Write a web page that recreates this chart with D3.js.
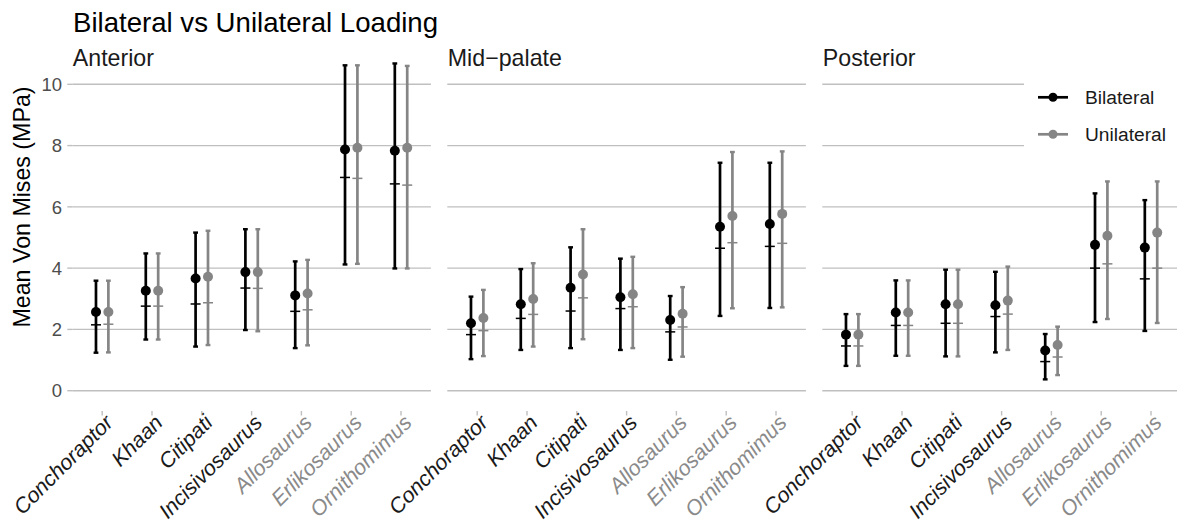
<!DOCTYPE html>
<html>
<head>
<meta charset="utf-8">
<script src="https://cdn.jsdelivr.net/npm/d3@7"></script>
<style>
  html, body { margin: 0; padding: 0; background: #fff; }
  svg { display: block; font-family: "Liberation Sans", Arial, sans-serif; }
</style>
</head>
<body>
<svg id="chart" width="1177" height="527"></svg>
<script>
// Facets, taxa and series
const regions = ["Anterior", "Mid\u2212palate", "Posterior"];
const taxa = ["Conchoraptor", "Khaan", "Citipati", "Incisivosaurus", "Allosaurus", "Erlikosaurus", "Ornithomimus"];
const outgroupTaxa = ["Allosaurus", "Erlikosaurus", "Ornithomimus"];
const seriesNames = ["Bilateral", "Unilateral"];
const yTicks = [0, 2, 4, 6, 8, 10];

// Mean Von Mises stress (MPa), one row per region: Anterior, Mid-palate, Posterior
const bilateralMean = [
  [2.57, 3.26, 3.66, 3.87, 3.11, 7.87, 7.83],
  [2.20, 2.82, 3.36, 3.05, 2.31, 5.35, 5.44],
  [1.83, 2.55, 2.82, 2.79, 1.31, 4.76, 4.67]
];
const bilateralMedian = [
  [2.15, 2.76, 2.83, 3.35, 2.59, 6.96, 6.75],
  [1.83, 2.36, 2.60, 2.68, 1.92, 4.65, 4.71],
  [1.46, 2.13, 2.20, 2.42, 0.95, 4.00, 3.65]
];
const bilateralMin = [
  [1.24, 1.67, 1.44, 1.98, 1.39, 4.12, 3.99],
  [1.03, 1.33, 1.39, 1.33, 1.01, 2.44, 2.70],
  [0.81, 1.14, 1.12, 1.25, 0.37, 2.24, 1.95]
];
const bilateralMax = [
  [3.59, 4.48, 5.16, 5.27, 4.22, 10.62, 10.68],
  [3.07, 3.97, 4.68, 4.31, 3.09, 7.44, 7.44],
  [2.50, 3.60, 3.95, 3.88, 1.85, 6.44, 6.22]
];
const unilateralMean = [
  [2.57, 3.26, 3.72, 3.87, 3.17, 7.93, 7.93],
  [2.37, 2.99, 3.79, 3.15, 2.51, 5.70, 5.77],
  [1.83, 2.55, 2.82, 2.94, 1.49, 5.06, 5.16]
];
const unilateralMedian = [
  [2.17, 2.76, 2.87, 3.34, 2.64, 6.93, 6.71],
  [1.96, 2.49, 3.03, 2.74, 2.08, 4.83, 4.81],
  [1.46, 2.13, 2.20, 2.50, 1.10, 4.14, 4.00]
];
const unilateralMin = [
  [1.25, 1.67, 1.49, 1.94, 1.48, 4.14, 3.99],
  [1.13, 1.44, 1.68, 1.39, 1.11, 2.69, 2.72],
  [0.81, 1.14, 1.12, 1.33, 0.51, 2.34, 2.21]
];
const unilateralMax = [
  [3.59, 4.48, 5.22, 5.27, 4.27, 10.62, 10.60],
  [3.29, 4.16, 5.27, 4.37, 3.38, 7.79, 7.81],
  [2.50, 3.60, 3.95, 4.05, 2.09, 6.83, 6.83]
];

// Build tidy rows from the arrays above
const stats = {
  Bilateral: { mean: bilateralMean, median: bilateralMedian, min: bilateralMin, max: bilateralMax },
  Unilateral: { mean: unilateralMean, median: unilateralMedian, min: unilateralMin, max: unilateralMax }
};
const rows = [];
regions.forEach((region, r) => {
  taxa.forEach((taxon, t) => {
    seriesNames.forEach(s => {
      rows.push({
        region, r, taxon, series: s,
        mean: stats[s].mean[r][t],
        median: stats[s].median[r][t],
        lo: stats[s].min[r][t],
        hi: stats[s].max[r][t]
      });
    });
  });
});

// Layout
const svg = d3.select("#chart");
const panelWidth = 358.6;
const panelGap = 16.4;
const panelLeft0 = 72.3;
const colour = d3.scaleOrdinal().domain(seriesNames).range(["#000000", "#858585"]);
const gridColour = "#bfbfbf";

const y = d3.scaleLinear().domain([0, 10]).range([390.7, 84.3]);

const panelX = d3.scaleBand().domain(regions)
  .range([panelLeft0, panelLeft0 + 3 * panelWidth + 2 * panelGap])
  .paddingInner(panelGap / (panelWidth + panelGap));

const xFor = region => {
  const left = panelX(region);
  const step = panelWidth / (taxa.length - 1 + 1.2);
  return d3.scalePoint().domain(taxa).range([left + 0.6 * step, left + panelWidth - 0.6 * step]);
};
const dodge = d3.scalePoint().domain(seriesNames).range([-6.2, 6.2]);

// Title
svg.append("text")
  .attr("x", 73).attr("y", 32)
  .attr("font-size", 27.6).attr("fill", "#000")
  .text("Bilateral vs Unilateral Loading");

// Y axis title
svg.append("text")
  .attr("transform", "translate(30,207) rotate(-90)")
  .attr("text-anchor", "middle")
  .attr("font-size", 23.2).attr("fill", "#000")
  .text("Mean Von Mises (MPa)");

// Y tick labels and ticks (left of first panel only)
const yAxis = svg.append("g");
yAxis.selectAll("text").data(yTicks).join("text")
  .attr("x", 62).attr("y", d => y(d)).attr("dy", "0.36em")
  .attr("text-anchor", "end").attr("font-size", 18.5).attr("fill", "#4d4d4d")
  .text(d => d);
yAxis.selectAll("line").data(yTicks).join("line")
  .attr("x1", panelLeft0 - 5).attr("x2", panelLeft0)
  .attr("y1", d => y(d)).attr("y2", d => y(d))
  .attr("stroke", gridColour).attr("stroke-width", 1.4);

regions.forEach(region => {
  const x = xFor(region);
  const left = panelX(region);
  const g = svg.append("g");

  // Strip label
  g.append("text")
    .attr("x", left + 0.5).attr("y", 65.5)
    .attr("font-size", 23.2).attr("fill", "#1a1a1a")
    .text(region);

  // Horizontal grid
  g.selectAll("line.grid").data(yTicks).join("line")
    .attr("class", "grid")
    .attr("x1", left).attr("x2", left + panelWidth)
    .attr("y1", d => y(d)).attr("y2", d => y(d))
    .attr("stroke", gridColour).attr("stroke-width", 1.4);

  // X ticks
  g.selectAll("line.xtick").data(taxa).join("line")
    .attr("class", "xtick")
    .attr("x1", d => x(d)).attr("x2", d => x(d))
    .attr("y1", 411).attr("y2", 415.5)
    .attr("stroke", gridColour).attr("stroke-width", 1.4);

  // X labels
  g.selectAll("text.xlab").data(taxa).join("text")
    .attr("class", "xlab")
    .attr("transform", d => `translate(${x(d) + 12},${424}) rotate(-45)`)
    .attr("text-anchor", "end")
    .attr("font-size", 21.4).attr("font-style", "italic")
    .attr("fill", d => outgroupTaxa.includes(d) ? "#8a8a8a" : "#1a1a1a")
    .text(d => d);

  // Error bars, median ticks, mean points
  const data = rows.filter(d => d.region === region);
  const cx = d => x(d.taxon) + dodge(d.series);
  const marks = g.append("g");
  marks.selectAll("line.range").data(data).join("line")
    .attr("x1", cx).attr("x2", cx)
    .attr("y1", d => y(d.lo)).attr("y2", d => y(d.hi))
    .attr("stroke", d => colour(d.series)).attr("stroke-width", 2.7);
  ["lo", "hi"].forEach(k => {
    marks.selectAll("line.cap-" + k).data(data).join("line")
      .attr("x1", d => cx(d) - 2.4).attr("x2", d => cx(d) + 2.4)
      .attr("y1", d => y(d[k])).attr("y2", d => y(d[k]))
      .attr("stroke", d => colour(d.series)).attr("stroke-width", 2.4);
  });
  marks.selectAll("line.median").data(data).join("line")
    .attr("x1", d => cx(d) - 5).attr("x2", d => cx(d) + 5)
    .attr("y1", d => y(d.median)).attr("y2", d => y(d.median))
    .attr("stroke", d => colour(d.series)).attr("stroke-width", 1.5);
  marks.selectAll("circle").data(data).join("circle")
    .attr("cx", cx).attr("cy", d => y(d.mean)).attr("r", 5)
    .attr("fill", d => colour(d.series));
});

// Legend
const legend = svg.append("g");
legend.append("rect")
  .attr("x", 1024).attr("y", 68).attr("width", 153).attr("height", 92)
  .attr("fill", "#fff");
const legendY = d3.scalePoint().domain(seriesNames).range([97.3, 134.3]);
seriesNames.forEach(s => {
  const ly = legendY(s);
  legend.append("line")
    .attr("x1", 1038).attr("x2", 1068).attr("y1", ly).attr("y2", ly)
    .attr("stroke", colour(s)).attr("stroke-width", 2.7);
  legend.append("circle")
    .attr("cx", 1053).attr("cy", ly).attr("r", 4.5).attr("fill", colour(s));
  legend.append("text")
    .attr("x", 1085).attr("y", ly).attr("dy", "0.36em")
    .attr("font-size", 19.2).attr("fill", "#1a1a1a")
    .text(s);
});
</script>
</body>
</html>
